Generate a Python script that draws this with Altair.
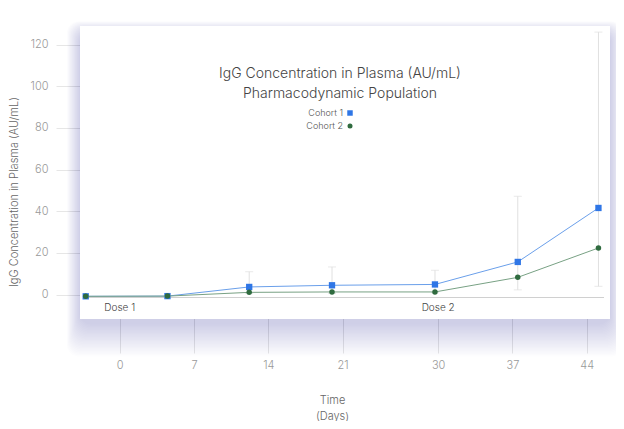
import altair as alt
import pandas as pd

# values
days = [-3.2, 4.5, 12.2, 20.0, 29.7, 37.5, 45.1]
cohort_1 = [-0.8, -0.7, 3.7, 4.5, 4.9, 15.7, 41.6]
cohort_2 = [-0.8, -0.7, 1.1, 1.3, 1.3, 8.3, 22.4]
err_days = [12.2, 20.0, 29.7, 37.5, 45.1]
err_lo = [0.5, 0.5, 1.0, 2.3, 4.0]
err_hi = [11.0, 13.3, 11.7, 47.2, 126.0]
dose_days = [0, 30]
dose_labels = ["Dose 1", "Dose 2"]
series = ["Cohort 1", "Cohort 2"]
x_ticks = [0, 7, 14, 21, 30, 37, 44]
y_ticks = [0, 20, 40, 60, 80, 100, 120]

FONT = "Inter"
BLUE, BLUE_LINE = "#2f76e6", "#6a9fea"
GREEN, GREEN_LINE = "#2f6b3f", "#78a184"

df1 = pd.DataFrame({"day": days, "value": cohort_1})
df2 = pd.DataFrame({"day": days, "value": cohort_2})
err = pd.DataFrame({"day": err_days, "lo": err_lo, "hi": err_hi})
doses = pd.DataFrame({"day": dose_days, "label": dose_labels})

x_scale = alt.Scale(domain=[-6, 46], nice=False, zero=False)
y_scale = alt.Scale(domain=[-28, 127], nice=False, zero=False)

x_enc = alt.X(
    "day:Q",
    scale=x_scale,
    axis=alt.Axis(
        values=x_ticks,
        title=["Time", "(Days)"],
        titleLineHeight=16,
        titlePadding=24,
        labelPadding=6,
        domain=False,
        ticks=False,
    ),
)
y_enc = alt.Y(
    "value:Q",
    scale=y_scale,
    axis=alt.Axis(
        values=y_ticks,
        title="IgG Concentration in Plasma (AU/mL)",
        titlePadding=11,
        labelPadding=8,
        domain=False,
        ticks=False,
    ),
)

# the axes (grid lives behind everything)
base = alt.Chart(df1).mark_point(opacity=0).encode(x=x_enc, y=y_enc)

# soft blue shadow under the white panel, mostly below it
px0, px1, py0, py1 = 24, 554, -4, 289
shadow_layers = []
for k in range(1, 25):
    shadow_layers.append(
        alt.Chart(doses.head(1))
        .mark_rect(color="#5a78d0", opacity=0.011, cornerRadius=12)
        .encode(
            x=alt.value(px0 - k * 0.55),
            x2=alt.value(px1 + k * 0.55),
            y=alt.value(py0 + 6 - k * 0.45),
            y2=alt.value(py1 + 4 + k * 1.4),
        )
    )

panel = (
    alt.Chart(doses.head(1))
    .mark_rect(color="white")
    .encode(x=alt.value(px0), x2=alt.value(px1), y=alt.value(py0), y2=alt.value(py1))
)

baseline = (
    alt.Chart(doses.head(1))
    .mark_rule(color="#d0d0d0", strokeWidth=1)
    .encode(x=alt.value(27), x2=alt.value(548), y=alt.value(267.5))
)

err_rule = (
    alt.Chart(err)
    .mark_rule(color="#e0e0e0", strokeWidth=1)
    .encode(x=alt.X("day:Q", scale=x_scale), y=alt.Y("lo:Q", scale=y_scale), y2="hi:Q")
)
err_top = (
    alt.Chart(err)
    .mark_tick(color="#e0e0e0", orient="horizontal", size=8, thickness=1)
    .encode(x=alt.X("day:Q", scale=x_scale), y=alt.Y("hi:Q", scale=y_scale))
)
err_bot = (
    alt.Chart(err)
    .mark_tick(color="#e0e0e0", orient="horizontal", size=8, thickness=1)
    .encode(x=alt.X("day:Q", scale=x_scale), y=alt.Y("lo:Q", scale=y_scale))
)

line1 = alt.Chart(df1).mark_line(color=BLUE_LINE, strokeWidth=1).encode(x="day:Q", y="value:Q")
pts1 = alt.Chart(df1).mark_point(shape="square", filled=True, color=BLUE, size=40, opacity=1).encode(
    x="day:Q", y="value:Q"
)
line2 = alt.Chart(df2).mark_line(color=GREEN_LINE, strokeWidth=1).encode(x="day:Q", y="value:Q")
pts2 = alt.Chart(df2).mark_point(shape="circle", filled=True, color=GREEN, size=30, opacity=1).encode(
    x="day:Q", y="value:Q"
)

dose_text = (
    alt.Chart(doses)
    .mark_text(font=FONT, fontSize=10, fontWeight=300, color="#444", baseline="middle")
    .encode(x=alt.X("day:Q", scale=x_scale), y=alt.value(278), text="label:N")
)

title = (
    alt.Chart(doses.head(1))
    .mark_text(font=FONT, fontSize=14, fontWeight=300, color="#444", lineHeight=20, baseline="middle")
    .encode(
        x=alt.value(284),
        y=alt.value(44),
        text=alt.value(["IgG Concentration in Plasma (AU/mL)", "Pharmacodynamic Population"]),
    )
)

legend_text = [
    alt.Chart(doses.head(1))
    .mark_text(font=FONT, fontSize=9, fontWeight=300, color="#555", align="right", baseline="middle")
    .encode(x=alt.value(287), y=alt.value(83 + 13 * i), text=alt.value(name))
    for i, name in enumerate(series)
]
legend_sym = [
    alt.Chart(doses.head(1))
    .mark_point(shape=shape, filled=True, color=col, size=sz, opacity=1)
    .encode(x=alt.value(294), y=alt.value(83 + 13 * i))
    for i, (shape, col, sz) in enumerate([("square", BLUE, 30), ("circle", GREEN, 25)])
]

chart = (
    alt.layer(
        base,
        *shadow_layers,
        panel,
        baseline,
        err_rule,
        err_top,
        err_bot,
        line1,
        pts1,
        line2,
        pts2,
        dose_text,
        title,
        *legend_text,
        *legend_sym,
    )
    .properties(
        width=552,
        height=323,
        autosize=alt.AutoSizeParams(type="none"),
        padding={"left": 48, "top": 22, "right": 8, "bottom": 68},
    )
    .configure_view(strokeWidth=0)
    .configure_axis(
        grid=True,
        gridColor="#e6e6e6",
        gridWidth=1,
        labelFont=FONT,
        labelFontSize=11,
        labelColor="#999",
        labelFontWeight=300,
        titleFont=FONT,
        titleFontSize=11,
        titleColor="#666",
        titleFontWeight=300,
    )
)

chart.save("out.html", embed_options={"renderer": "svg", "actions": False})
